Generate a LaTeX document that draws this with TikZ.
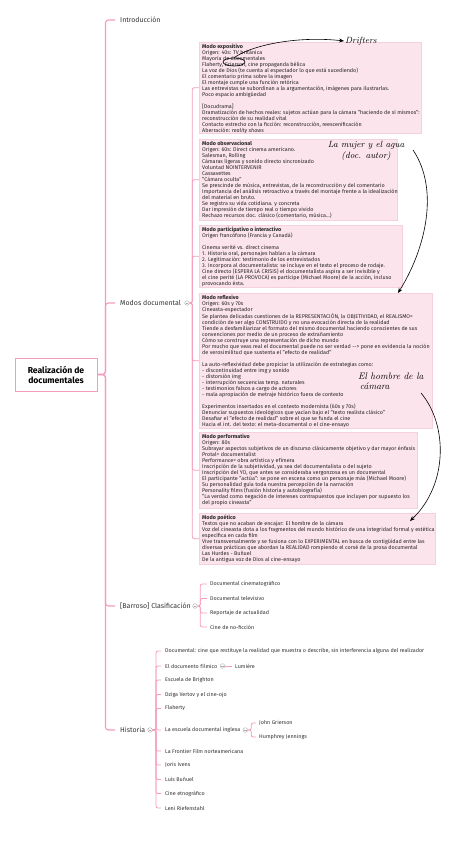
\documentclass[tikz,border=0pt]{standalone}
\usepackage{fontspec}
\setsansfont{Fira Sans}
\renewcommand{\familydefault}{\sfdefault}
\usetikzlibrary{arrows.meta,shapes.geometric}
\definecolor{lnk}{HTML}{F59BBE}
\definecolor{boxfill}{HTML}{FCE4EC}
\definecolor{boxline}{HTML}{F6D0DE}
\definecolor{txt}{HTML}{333333}
\definecolor{icon}{HTML}{AAAAAA}
\begin{document}
\begin{tikzpicture}[x=1pt,y=-1pt,
  lnkmain/.style={draw=lnk,line width=1.1pt,rounded corners=3pt},
  lnksub/.style={draw=lnk,line width=0.8pt,rounded corners=2pt},
  rootbox/.style={draw=lnk,line width=0.9pt,fill=white,minimum width=82pt,minimum height=33pt,align=center,inner sep=0pt,font=\fontsize{8.6}{10}\selectfont\bfseries,text=black},
  lone/.style={anchor=west,inner sep=1pt,font=\fontsize{7}{8}\selectfont,text=txt},
  ltwo/.style={anchor=west,inner sep=1pt,font=\fontsize{5.4}{6}\selectfont,text=txt},
  modebox/.style={anchor=north west,fill=boxfill,draw=boxline,line width=0.4pt,inner sep=0pt},
  boxtext/.style={anchor=north west,inner sep=0pt,align=left,font=\fontsize{5.4}{6}\selectfont,text=black!85},
  iconc/.style={circle,draw=icon,line width=0.4pt,inner sep=0pt,minimum size=4.6pt,path picture={\draw[icon,line width=0.4pt] ([xshift=-1.3pt]path picture bounding box.center) -- ([xshift=1.3pt]path picture bounding box.center);}},
  hand/.style={font=\rmfamily\itshape\fontsize{9}{11}\selectfont,text=black,inner sep=1pt},
  handarrow/.style={draw=black,line width=0.6pt,-{Stealth[length=5pt,width=4pt]}}
]
\useasboundingbox (0,0) rectangle (452,848);

% root and first level
\node[rootbox] (root) at (56,374.5) {Realización de\\documentales};
\node[lone] (intro) at (119,20) {Introducción};
\node[lone] (modos) at (119,303) {Modos documental};
\node[lone] (clasif) at (119,606) {[Barroso] Clasificación};
\node[lone] (hist) at (119,730) {Historia};
\foreach \n in {intro,modos,clasif,hist}
  \draw[lnkmain,shorten >=4pt] (root.east) -- ++(8,0) |- (\n.west);

\node[iconc] (mi) at (187,303) {};
\node[iconc] (ci) at (195,606) {};
\node[iconc] (hi) at (150,730) {};

% mode boxes
\node[modebox,minimum width=222pt,minimum height=91pt] (b1) at (199,42) {};
\node[modebox,minimum width=198pt,minimum height=81pt] (b2) at (199,139) {};
\node[modebox,minimum width=203pt,minimum height=62pt] (b3) at (199,225) {};
\node[modebox,minimum width=233pt,minimum height=135pt] (b4) at (199,293) {};
\node[modebox,minimum width=218pt,minimum height=76pt] (b5) at (199,432) {};
\node[modebox,minimum width=236pt,minimum height=51pt] (b6) at (199,513) {};

\node[boxtext] (t1) at ([xshift=3pt,yshift=-2pt]b1.north west) {%
\textbf{Modo expositivo}\\
Origen: 40s: TV británica\\
Mayoría de documentales\\
Flaherty, Grierson, cine propaganda bélica\\
La voz de Dios (te cuenta al espectador lo que está sucediendo)\\
El comentario prima sobre la imagen\\
El montaje cumple una función retórica\\
Las entrevistas se subordinan a la argumentación, imágenes para ilustrarlas.\\
Poco espacio ambigüedad\\[6pt]
{}[Docudrama]\\
Dramatización de hechos reales: sujetos actúan para la cámara "haciendo de sí mismos":\\
reconstrucción de su realidad vital\\
Contacto estrecho con la ficción: reconstrucción, reescenificación\\
Aberración: \textit{reality shows}};

\node[boxtext] (t2) at ([xshift=3pt,yshift=-2pt]b2.north west) {%
\textbf{Modo observacional}\\
Origen: 60s: Direct cinema americano.\\
Salesman, Rolling\\
Cámaras ligeras y sonido directo sincronizado\\
Voluntad NOINTERVENIR\\
Cassavettes\\
"Cámara oculta"\\
Se prescinde de música, entrevistas, de la reconstrucción y del comentario\\
Importancia del análisis retroactivo a través del montaje frente a la idealización\\
del material en bruto.\\
Se registra su vida cotidiana. y concreta\\
Dar impresión de tiempo real o tiempo vivido\\
Rechazo recursos doc. clásico (comentario, música...)};

\node[boxtext] (t3) at ([xshift=3pt,yshift=-2pt]b3.north west) {%
\textbf{Modo participativo o interactivo}\\
Origen francófono (Francia y Canadá)\\[6pt]
Cinema verité vs. direct cinema\\
1. Historia oral, personajes hablan a la cámara\\
2. Legitimación: testimonio de los entrevistados\\
3. Incorpora al documentalista: se incluye en el texto el proceso de rodaje.\\
Cine directo (ESPERA LA CRISIS) el documentalista aspira a ser invisible y\\
el cine perité (LA PROVOCA) es partícipe (Michael Moore) de la acción, incluso\\
provocando ésta.};

\node[boxtext] (t4) at ([xshift=3pt,yshift=-2pt]b4.north west) {%
\textbf{Modo reflexivo}\\
Origen: 60s y 70s\\
Cineasta-espectador\\
Se plantea delicadas cuestiones de la REPRESENTACIÓN, la OBJETIVIDAD, el REALISMO=\\
condición de ser algo CONSTRUIDO y no una evocación directa de la realidad\\
Tiende a desfamiliarizar el formato del mismo documental haciendo conscientes de sus\\
convenciones por medio de un proceso de extrañamiento\\
Cómo se construye una representación de dicho mundo\\
Por mucho que veas real el documental puede no ser verdad -{}-{}> pone en evidencia la noción\\
de verosimilitud que sustenta el "efecto de realidad"\\[6pt]
La auto-reflexividad debe propiciar la utilización de estrategias como:\\
- discontinuidad entre img y sonido\\
- distorsión img\\
- interrupción secuencias temp. naturales\\
- testimonios falsos a cargo de actores\\
- mala apropiación de metraje histórico fuera de contexto\\[6pt]
Experimentos insertados en el contexto modernista (60s y 70s)\\
Denunciar supuestos ideológicos que yacían bajo el "texto realista clásico"\\
Desafiar el "efecto de realidad" sobre el que se funda el cine\\
Hacia el int. del texto: el meta-documental o el cine-ensayo};

\node[boxtext] (t5) at ([xshift=3pt,yshift=-2pt]b5.north west) {%
\textbf{Modo performativo}\\
Origen: 80s\\
Subrayar aspectos subjetivos de un discurso clásicamente objetivo y dar mayor énfasis\\
Protal= documentalist\\
Performance= obra artística y efímera\\
Inscripción de la subjetividad, ya sea del documentalista o del sujeto\\
Inscripción del YO, que antes se consideraba vergonzosa es un documental\\
El participante "actúa": se pone en escena como un personaje más (Michael Moore)\\
Su personalidad guía toda nuestra percepción de la narración\\
Personality films (fusión historia y autobiografía)\\
"La verdad como negación de intereses contrapuestos que incluyen por supuesto los\\
del propio cineasta"};

\node[boxtext] (t6) at ([xshift=3pt,yshift=-2pt]b6.north west) {%
\textbf{Modo poético}\\
Textos que no acaban de encajar: El hombre de la cámara\\
Voz del cineasta dota a los fragmentos del mundo histórico de una integridad formal y estética\\
específica en cada film\\
Vive transversalmente y se fusiona con lo EXPERIMENTAL en busca de contigüidad entre las\\
diversas prácticas que abordan la REALIDAD rompiendo el corsé de la prosa documental\\
Las Hurdes - Buñuel\\
De la antigua voz de Dios al cine-ensayo};

\foreach \b in {b1,b2,b3,b4,b5,b6}
  \draw[lnksub] (mi.east) -- ++(2.8,0) |- (\b.west);

% clasificación
\node[ltwo] (c1) at (209,584) {Documental cinematográfico};
\node[ltwo] (c2) at (209,598.5) {Documental televisivo};
\node[ltwo] (c3) at (209,613) {Reportaje de actualidad};
\node[ltwo] (c4) at (209,627) {Cine de no-ficción};
\foreach \c in {c1,c2,c3,c4}
  \draw[lnksub,shorten >=2pt] (ci.east) -- ++(2.8,0) |- (\c.west);

% historia
\node[ltwo] (h1) at (164,651) {Documental: cine que restituye la realidad que muestra o describe, sin interferencia alguna del realizador};
\node[ltwo] (h2) at (164,666) {El documento fílmico};
\node[ltwo] (h3) at (164,680) {Escuela de Brighton};
\node[ltwo] (h4) at (164,694.5) {Dziga Vertov y el cine-ojo};
\node[ltwo] (h5) at (164,708.5) {Flaherty};
\node[ltwo] (h6) at (164,730) {La escuela documental inglesa};
\node[ltwo] (h7) at (164,751) {La Frontier Film norteamericana};
\node[ltwo] (h8) at (164,765) {Joris Ivens};
\node[ltwo] (h9) at (164,779.5) {Luis Buñuel};
\node[ltwo] (h10) at (164,793.5) {Cine etnográfico};
\node[ltwo] (h11) at (164,808) {Leni Riefenstahl};
\foreach \h in {h1,h2,h3,h4,h5,h6,h7,h8,h9,h10,h11}
  \draw[lnksub,shorten >=3pt] (hi.east) -- ++(3.5,0) |- (\h.west);

\node[iconc] (fi) at (222.5,666) {};
\node[ltwo] (lum) at (234,666) {Lumière};
\draw[lnksub,shorten >=2pt] (fi.east) -- (lum.west);

\node[iconc] (ii) at (245.3,730) {};
\node[ltwo] (j1) at (258,723) {John Grierson};
\node[ltwo] (j2) at (258,737) {Humphrey Jennings};
\foreach \j in {j1,j2}
  \draw[lnksub,shorten >=2pt] (ii.east) -- ++(3.5,0) |- (\j.west);

% handwritten notes
\node[hand] (drift) at (361,41) {Drifters};
\node[draw=black,line width=0.6pt,ellipse,minimum width=22pt,minimum height=8pt,inner sep=0pt] (grier) at (234,62) {};
\draw[handarrow] (grier.north) .. controls (254,44) and (300,36) .. (drift.west);

\node[hand,align=center] (mujer) at (366,151) {La mujer y el agua\\(doc. autor)};
\coordinate (mujerout) at (413,150);
\coordinate (m4) at (398,293);
\draw[handarrow] (mujerout) .. controls (440,190) and (425,250) .. (m4);

\node[hand,align=left,anchor=west,font=\rmfamily\itshape\fontsize{9.5}{10}\selectfont] (hombre) at (357,381) {El hombre de la\\ \,cámara};
\coordinate (hout) at (421,393);
\coordinate (m6) at (410,521);
\draw[handarrow] (hout) .. controls (448,425) and (448,485) .. (m6);
\end{tikzpicture}
\end{document}
